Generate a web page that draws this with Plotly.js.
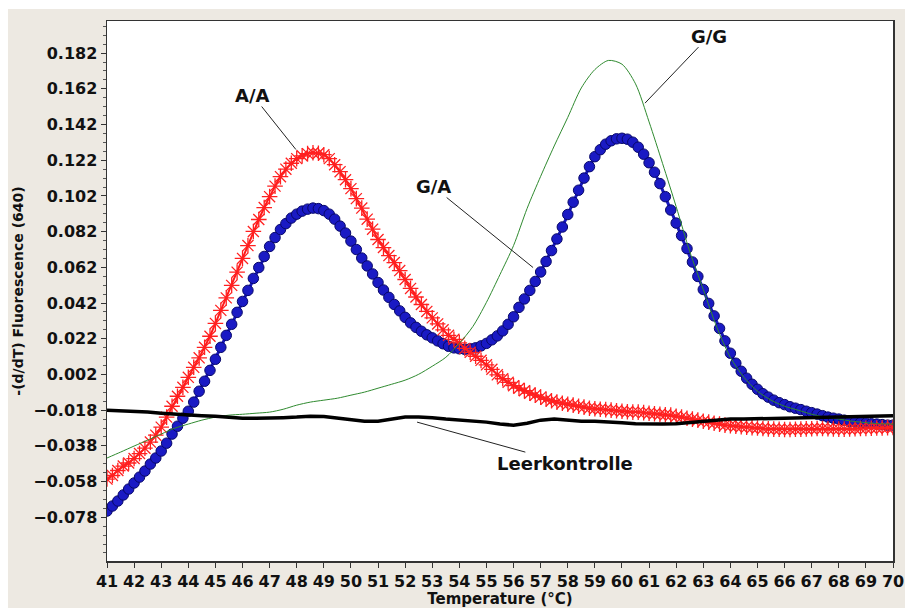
<!DOCTYPE html>
<html>
<head>
<meta charset="utf-8">
<script src="https://cdn.plot.ly/plotly-3.0.1.min.js"></script>
<style>html,body{margin:0;padding:0;background:#fff;}#chart{width:905px;height:608px;}</style>
</head>
<body>
<div id="chart"></div>
<script>
// Temperature grid of the marker series (°C)
const temps = [
  41.0,41.2,41.4,41.6,41.8,42.0,42.2,42.4,42.6,42.8,
  43.0,43.2,43.4,43.6,43.8,44.0,44.2,44.4,44.6,44.8,
  45.0,45.2,45.4,45.6,45.8,46.0,46.2,46.4,46.6,46.8,
  47.0,47.2,47.4,47.6,47.8,48.0,48.2,48.4,48.6,48.8,
  49.0,49.2,49.4,49.6,49.8,50.0,50.2,50.4,50.6,50.8,
  51.0,51.2,51.4,51.6,51.8,52.0,52.2,52.4,52.6,52.8,
  53.0,53.2,53.4,53.6,53.8,54.0,54.2,54.4,54.6,54.8,
  55.0,55.2,55.4,55.6,55.8,56.0,56.2,56.4,56.6,56.8,
  57.0,57.2,57.4,57.6,57.8,58.0,58.2,58.4,58.6,58.8,
  59.0,59.2,59.4,59.6,59.8,60.0,60.2,60.4,60.6,60.8,
  61.0,61.2,61.4,61.6,61.8,62.0,62.2,62.4,62.6,62.8,
  63.0,63.2,63.4,63.6,63.8,64.0,64.2,64.4,64.6,64.8,
  65.0,65.2,65.4,65.6,65.8,66.0,66.2,66.4,66.6,66.8,
  67.0,67.2,67.4,67.6,67.8,68.0,68.2,68.4,68.6,68.8,
  69.0,69.2,69.4,69.6,69.8,70.0
];

// A/A (red asterisks)
const aaValues = [
  -0.0566,-0.0546,-0.0518,-0.0493,-0.0476,-0.0451,-0.0423,-0.0393,-0.0359,-0.0320,
  -0.0275,-0.0219,-0.0158,-0.0102,-0.0052,0.0004,0.0060,0.0113,0.0172,0.0234,
  0.0306,0.0379,0.0449,0.0519,0.0593,0.0670,0.0742,0.0821,0.0888,0.0955,
  0.1016,0.1075,0.1128,0.1170,0.1203,0.1229,0.1245,0.1257,0.1262,0.1259,
  0.1251,0.1229,0.1195,0.1156,0.1111,0.1061,0.1005,0.0952,0.0890,0.0834,
  0.0776,0.0731,0.0686,0.0647,0.0602,0.0552,0.0502,0.0454,0.0412,0.0373,
  0.0337,0.0303,0.0270,0.0239,0.0217,0.0197,0.0166,0.0144,0.0122,0.0099,
  0.0074,0.0049,0.0018,-0.0004,-0.0024,-0.0043,-0.0057,-0.0071,-0.0085,-0.0096,
  -0.0107,-0.0119,-0.0127,-0.0135,-0.0141,-0.0147,-0.0152,-0.0158,-0.0163,-0.0169,
  -0.0172,-0.0175,-0.0177,-0.0180,-0.0183,-0.0186,-0.0189,-0.0191,-0.0191,-0.0194,
  -0.0197,-0.0200,-0.0203,-0.0206,-0.0208,-0.0214,-0.0219,-0.0225,-0.0230,-0.0236,
  -0.0242,-0.0247,-0.0253,-0.0258,-0.0264,-0.0267,-0.0270,-0.0273,-0.0275,-0.0278,
  -0.0280,-0.0283,-0.0285,-0.0286,-0.0287,-0.0288,-0.0288,-0.0287,-0.0286,-0.0285,
  -0.0284,-0.0283,-0.0283,-0.0284,-0.0285,-0.0286,-0.0286,-0.0285,-0.0284,-0.0283,
  -0.0282,-0.0281,-0.0280,-0.0279,-0.0278,-0.0277
];

// G/A (blue dots)
const gaValues = [
  -0.0745,-0.0717,-0.0689,-0.0655,-0.0622,-0.0588,-0.0555,-0.0521,-0.0482,-0.0448,
  -0.0409,-0.0365,-0.0314,-0.0270,-0.0225,-0.0186,-0.0135,-0.0074,-0.0018,0.0043,
  0.0105,0.0172,0.0239,0.0301,0.0368,0.0429,0.0491,0.0558,0.0619,0.0681,
  0.0737,0.0787,0.0832,0.0865,0.0896,0.0918,0.0935,0.0946,0.0952,0.0949,
  0.0938,0.0918,0.0890,0.0851,0.0812,0.0767,0.0720,0.0672,0.0628,0.0583,
  0.0535,0.0493,0.0452,0.0412,0.0376,0.0340,0.0309,0.0284,0.0262,0.0242,
  0.0225,0.0208,0.0192,0.0178,0.0169,0.0164,0.0161,0.0164,0.0169,0.0180,
  0.0194,0.0214,0.0236,0.0264,0.0301,0.0343,0.0396,0.0443,0.0491,0.0541,
  0.0594,0.0653,0.0714,0.0779,0.0846,0.0916,0.0985,0.1052,0.1120,0.1184,
  0.1240,0.1279,0.1310,0.1329,0.1340,0.1343,0.1338,0.1321,0.1293,0.1254,
  0.1206,0.1153,0.1089,0.1016,0.0941,0.0868,0.0798,0.0725,0.0650,0.0569,
  0.0496,0.0418,0.0348,0.0278,0.0208,0.0139,0.0083,0.0038,-0.0001,-0.0035,
  -0.0063,-0.0088,-0.0107,-0.0124,-0.0138,-0.0149,-0.0161,-0.0169,-0.0177,-0.0186,
  -0.0194,-0.0202,-0.0211,-0.0219,-0.0225,-0.0230,-0.0236,-0.0242,-0.0247,-0.0250,
  -0.0253,-0.0256,-0.0258,-0.0261,-0.0264,-0.0264
];

// Temperature grid of the plain line series (°C)
const tempsLine = [
  41.0,41.5,42.0,42.5,43.0,43.5,44.0,44.5,45.0,45.5,
  46.0,46.5,47.0,47.5,48.0,48.5,49.0,49.5,50.0,50.5,
  51.0,51.5,52.0,52.5,53.0,53.5,54.0,54.5,55.0,55.5,
  56.0,56.5,57.0,57.5,58.0,58.5,59.0,59.5,60.0,60.5,
  61.0,61.5,62.0,62.5,63.0,63.5,64.0,64.5,65.0,65.5,
  66.0,66.5,67.0,67.5,68.0,68.5,69.0,69.5,70.0
];

// G/G (thin green line)
const ggValues = [
  -0.0448,-0.0415,-0.0381,-0.0348,-0.0314,-0.0281,-0.0258,-0.0236,-0.0219,-0.0208,
  -0.0203,-0.0197,-0.0191,-0.0175,-0.0152,-0.0135,-0.0124,-0.0113,-0.0096,-0.0079,
  -0.0057,-0.0035,-0.0012,0.0021,0.0066,0.0116,0.0194,0.0289,0.0424,0.0580,
  0.0742,0.0950,0.1130,0.1300,0.1460,0.1625,0.1728,0.1779,0.1758,0.1648,
  0.1435,0.1201,0.0960,0.0709,0.0496,0.0284,0.0116,0.0004,-0.0074,-0.0124,
  -0.0158,-0.0180,-0.0203,-0.0219,-0.0230,-0.0242,-0.0250,-0.0256,-0.0258
];

// Leerkontrolle (thick black line)
const ntcValues = [
  -0.0180,-0.0183,-0.0186,-0.0191,-0.0197,-0.0203,-0.0208,-0.0211,-0.0214,-0.0219,
  -0.0225,-0.0225,-0.0225,-0.0222,-0.0219,-0.0214,-0.0216,-0.0225,-0.0236,-0.0242,
  -0.0242,-0.0230,-0.0219,-0.0219,-0.0222,-0.0230,-0.0236,-0.0242,-0.0247,-0.0258,
  -0.0264,-0.0253,-0.0236,-0.0230,-0.0236,-0.0242,-0.0242,-0.0245,-0.0250,-0.0256,
  -0.0258,-0.0258,-0.0256,-0.0250,-0.0245,-0.0236,-0.0230,-0.0230,-0.0228,-0.0225,
  -0.0225,-0.0222,-0.0222,-0.0219,-0.0219,-0.0216,-0.0214,-0.0214,-0.0211
];

// Y tick values shown on the axis
const yTickVals = [0.182, 0.162, 0.142, 0.122, 0.102, 0.082, 0.062, 0.042, 0.022, 0.002,
                   -0.018, -0.038, -0.058, -0.078];

// Labels
const labelAA = 'A/A';
const labelGA = 'G/A';
const labelGG = 'G/G';
const labelNTC = 'Leerkontrolle';
const xTitle = 'Temperature (°C)';
const yTitle = '-(d/dT) Fluorescence (640)';

const FONT = 'DejaVu Sans, Arial, sans-serif';

const traces = [
  {
    x: temps, y: gaValues, type: 'scatter', mode: 'lines+markers', name: labelGA,
    line: {color: '#1818c0', width: 3},
    marker: {symbol: 'circle', size: 10.5, color: '#1a1ac4', line: {color: '#08086a', width: 1}}
  },
  {
    x: temps, y: aaValues, type: 'scatter', mode: 'lines+markers', name: labelAA,
    line: {color: '#ff1a1a', width: 2},
    marker: {symbol: 'asterisk-open', size: 13, color: '#ff2020', line: {color: '#f21c1c', width: 1.3}}
  },
  {
    x: tempsLine, y: ggValues, type: 'scatter', mode: 'lines', name: labelGG,
    line: {color: '#2f8a2f', width: 1, shape: 'spline', smoothing: 0.8}
  },
  {
    x: tempsLine, y: ntcValues, type: 'scatter', mode: 'lines', name: labelNTC,
    line: {color: '#000000', width: 3.5}
  }
];

const annFont = {family: FONT, size: 18, color: '#111', weight: 'bold'};
function ann(text, x, y, ax, ay) {
  return {text: text, x: x, y: y, xref: 'x', yref: 'y', ax: ax, ay: ay, axref: 'pixel', ayref: 'pixel',
          showarrow: true, arrowhead: 0, arrowwidth: 1, arrowcolor: '#222', standoff: 0, startstandoff: 0,
          font: annFont, borderpad: 0};
}

const layout = {
  width: 905, height: 608,
  margin: {l: 107, r: 12, t: 21, b: 47, pad: 0},
  paper_bgcolor: '#ffffff',
  plot_bgcolor: '#ffffff',
  showlegend: false,
  hovermode: false,
  xaxis: {
    range: [41, 70], tickmode: 'linear', tick0: 41, dtick: 1, tickangle: 0,
    ticks: 'outside', ticklen: 5, tickwidth: 1, tickcolor: '#333',
    showline: true, mirror: true, linecolor: '#333', linewidth: 1.5,
    showgrid: false, zeroline: false,
    tickfont: {family: FONT, size: 16, color: '#111', weight: 'bold'},
    title: {text: xTitle, font: {family: FONT, size: 15, color: '#111', weight: 'bold'}, standoff: 2}
  },
  yaxis: {
    range: [-0.1025, 0.2], tickmode: 'array', tickvals: yTickVals, tickformat: '.3f',
    ticks: 'outside', ticklen: 5, tickwidth: 1, tickcolor: '#333',
    minor: {tickmode: 'linear', tick0: 0.002, dtick: 0.005, ticks: 'outside', ticklen: 3, tickcolor: '#555', showgrid: false},
    showline: true, mirror: true, linecolor: '#333', linewidth: 1.5,
    showgrid: false, zeroline: false,
    tickfont: {family: FONT, size: 16, color: '#111', weight: 'bold'},
    title: {text: yTitle, font: {family: FONT, size: 14, color: '#111', weight: 'bold'}, standoff: 6}
  },
  shapes: [
    {type: 'rect', xref: 'paper', yref: 'paper', x0: -0.126, x1: 1.03, y0: -0.11, y1: 1.0222,
     fillcolor: '#ede9e2', line: {width: 0}, layer: 'below'},
    {type: 'rect', xref: 'paper', yref: 'paper', x0: 0, x1: 1, y0: 0, y1: 1,
     fillcolor: '#ffffff', line: {width: 0}, layer: 'below'}
  ],
  annotations: [
    ann(labelAA, 47.97, 0.128, -43, -54),
    ann(labelGG, 60.85, 0.154, 64, -67),
    ann(labelGA, 56.72, 0.0619, -100, -81),
    ann(labelNTC, 52.44, -0.0247, 148, 41)
  ]
};

Plotly.newPlot('chart', traces, layout, {staticPlot: true, displayModeBar: false});
</script>
</body>
</html>
